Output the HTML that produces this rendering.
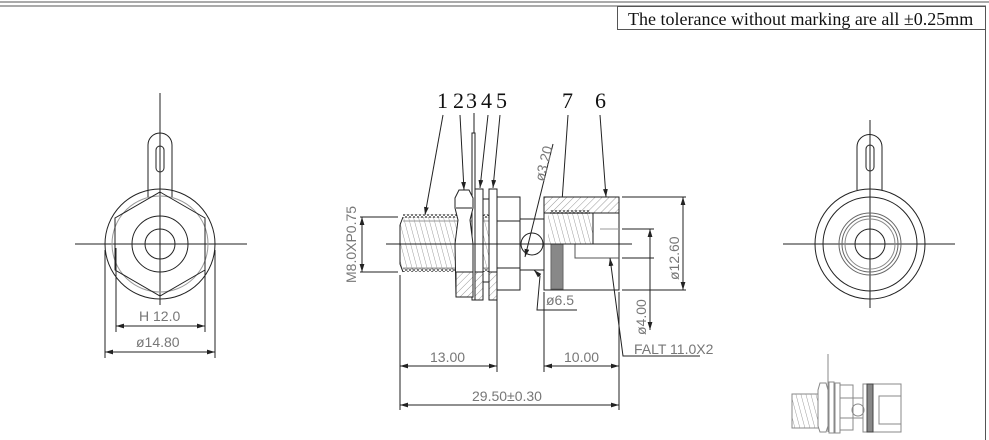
<!DOCTYPE html>
<html><head><meta charset="utf-8"><style>
html,body{margin:0;padding:0;background:#fff;}
svg{display:block;}
text{font-family:"Liberation Sans",sans-serif;fill:#777;font-size:14px;}
.s{fill:none;stroke:#222;stroke-width:1;}
.g{fill:none;stroke:#888;stroke-width:1;}
.lbl{font-family:"Liberation Serif",serif;fill:#111;font-size:22px;}
</style></head><body>
<svg width="989" height="440" viewBox="0 0 989 440" xmlns="http://www.w3.org/2000/svg">
<defs>
<pattern id="h" width="5" height="5" patternUnits="userSpaceOnUse" patternTransform="rotate(45)"><line x1="0" y1="0" x2="0" y2="5" stroke="#555" stroke-width="0.6"/></pattern>
<pattern id="th" width="5" height="10" patternUnits="userSpaceOnUse" patternTransform="skewX(15)"><line x1="0" y1="0" x2="0" y2="10" stroke="#555" stroke-width="0.6"/></pattern>
<pattern id="zz" width="4" height="4" patternUnits="userSpaceOnUse"><path d="M0,4 L2,0 L4,4" fill="none" stroke="#333" stroke-width="0.7"/></pattern>
<marker id="a" viewBox="0 0 10 6" refX="10" refY="3" markerWidth="8" markerHeight="5" orient="auto-start-reverse"><path d="M0,0 L10,3 L0,6z" fill="#222"/></marker>
</defs>
<line x1="0" y1="2" x2="989" y2="2" stroke="#555"/>
<line x1="0" y1="6" x2="986" y2="6" stroke="#555"/>
<line x1="985.5" y1="6" x2="985.5" y2="440" stroke="#555"/>
<rect x="617.5" y="6.5" width="368" height="23" fill="none" stroke="#555"/>
<text x="628" y="25" style="font-family:'Liberation Serif',serif;fill:#111;font-size:18px">The tolerance without marking are all ±0.25mm</text>

<!-- LEFT VIEW -->
<g class="s">
<line x1="75" y1="244" x2="247" y2="244"/><line x1="160" y1="93" x2="160" y2="305"/>
<circle cx="160" cy="244" r="55"/>
<circle cx="160" cy="244" r="48" stroke="#999"/>
<polygon points="160,192 205,218 205,270 160,296 115,270 115,218"/>
<circle cx="160" cy="244" r="28"/><circle cx="160" cy="244" r="15"/>
<path d="M148,197 L148,145 A12,12 0 0 1 172,145 L172,197"/>
<rect x="156" y="146" width="8" height="26" rx="4"/>
<line x1="116" y1="248" x2="116" y2="332"/><line x1="205" y1="248" x2="205" y2="332"/>
<line x1="105" y1="250" x2="105" y2="358"/><line x1="215" y1="250" x2="215" y2="358"/>
<line x1="116" y1="326" x2="205" y2="326" marker-start="url(#a)" marker-end="url(#a)"/>
<line x1="105" y1="352" x2="215" y2="352" marker-start="url(#a)" marker-end="url(#a)"/>
</g>
<text x="139" y="321">H 12.0</text>
<text x="136" y="347">ø14.80</text>

<!-- MAIN SIDE VIEW -->
<g transform="translate(0,0)">
<text class="lbl" x="437" y="108">1</text><text class="lbl" x="453" y="108">2</text><text class="lbl" x="466" y="108">3</text><text class="lbl" x="481" y="108">4</text><text class="lbl" x="496" y="108">5</text>
<text class="lbl" x="562" y="108">7</text><text class="lbl" x="595" y="108">6</text>
</g>
<g class="s">
<line x1="443" y1="115" x2="425" y2="215" marker-end="url(#a)"/>
<line x1="460" y1="115" x2="464" y2="190" marker-end="url(#a)"/>
<line x1="474" y1="113" x2="474" y2="133"/>
<line x1="488" y1="115" x2="480" y2="188" marker-end="url(#a)"/>
<line x1="500" y1="115" x2="493" y2="188" marker-end="url(#a)"/>
<line x1="568" y1="115" x2="559" y2="245" marker-end="url(#a)"/>
<line x1="600" y1="115" x2="606" y2="197" marker-end="url(#a)"/>
<!-- thread -->
<rect x="400" y="217" width="98" height="55" fill="url(#th)" stroke="none"/>
<rect x="403" y="214" width="93" height="4" fill="url(#zz)" stroke="none"/>
<rect x="403" y="271" width="93" height="4" fill="url(#zz)" stroke="none" transform="translate(0,543) scale(1,-1)"/>
<path d="M400,225 L403,217 M400,225 L400,264 L403,272"/>
<line x1="403" y1="221" x2="496" y2="221" stroke="#999"/><line x1="403" y1="268" x2="496" y2="268" stroke="#999"/>
<rect x="472" y="133" width="3" height="167" fill="#fff"/>
<path d="M459,190 L469,190 L473,198 L473,208 L470,220 L473,244 L473,297 L456,297 L455,244 L458,220 L455,208 L455,198 Z" fill="#fff"/>
<line x1="456" y1="208" x2="472" y2="208"/>
<rect x="456" y="272" width="17" height="25" fill="url(#h)"/>
<rect x="475" y="189" width="8" height="111" fill="#fff"/>
<rect x="489" y="189" width="8" height="111" fill="#fff"/>
<rect x="475" y="272" width="8" height="28" fill="url(#h)"/>
<rect x="489" y="272" width="8" height="28" fill="url(#h)"/>
<line x1="483" y1="199" x2="489" y2="199"/><line x1="483" y1="282" x2="489" y2="282"/>
<rect x="497" y="197" width="23" height="93" fill="#fff"/>
<line x1="497" y1="221" x2="520" y2="221"/><line x1="497" y1="268" x2="520" y2="268"/>
<rect x="520" y="219" width="24" height="51"/>
<circle cx="532" cy="244" r="11"/>
<rect x="544" y="197" width="75" height="93" fill="#fff"/>
<rect x="544" y="197" width="75" height="16" fill="url(#h)"/>
<rect x="548" y="213" width="45" height="31" fill="url(#th)" stroke="none"/>
<rect x="550" y="210" width="40" height="4" fill="url(#zz)" stroke="none"/>
<line x1="593" y1="213" x2="593" y2="244"/>
<line x1="548" y1="244" x2="619" y2="244"/>
<rect x="551" y="244" width="12" height="45" fill="#888" stroke="#666"/>
<line x1="600" y1="229" x2="619" y2="229" stroke="#999"/>
<path d="M575,244 L575,258 L619,258" stroke="#555"/>
<line x1="386" y1="244" x2="632" y2="244"/>
<line x1="360" y1="217" x2="398" y2="217"/><line x1="360" y1="272" x2="398" y2="272"/>
<line x1="362" y1="217" x2="362" y2="272" marker-start="url(#a)" marker-end="url(#a)"/>
<line x1="400" y1="275" x2="400" y2="410"/>
<line x1="497" y1="300" x2="497" y2="372"/>
<line x1="544" y1="292" x2="544" y2="372"/>
<line x1="619" y1="292" x2="619" y2="410"/>
<line x1="400" y1="366" x2="497" y2="366" marker-start="url(#a)" marker-end="url(#a)"/>
<line x1="544" y1="366" x2="619" y2="366" marker-start="url(#a)" marker-end="url(#a)"/>
<line x1="400" y1="405" x2="619" y2="405" marker-start="url(#a)" marker-end="url(#a)"/>
<line x1="622" y1="197" x2="686" y2="197"/><line x1="622" y1="290" x2="686" y2="290"/>
<line x1="683" y1="197" x2="683" y2="290" marker-start="url(#a)" marker-end="url(#a)"/>
<line x1="622" y1="229" x2="654" y2="229"/><line x1="622" y1="258" x2="654" y2="258"/>
<line x1="650" y1="229" x2="650" y2="330" marker-start="url(#a)" marker-end="url(#a)"/>
<line x1="553" y1="144" x2="525" y2="257" marker-end="url(#a)"/>
<path d="M534,270 L540,276 L537,310 L577,310" marker-start="url(#a)"/>
<path d="M610,258 L623,356 L700,356" marker-start="url(#a)"/>
</g>
<text transform="translate(356,283) rotate(-90)">M8.0XP0.75</text>
<text x="430" y="362">13.00</text>
<text x="564" y="362">10.00</text>
<text x="472" y="401">29.50±0.30</text>
<text transform="translate(679,280) rotate(-90)">ø12.60</text>
<text transform="translate(646,335) rotate(-90)">ø4.00</text>
<text transform="translate(544,182) rotate(-76)">ø3.20</text>
<text x="546" y="305">ø6.5</text>
<text x="634" y="354">FALT  11.0X2</text>

<!-- RIGHT VIEW -->
<g class="s">
<line x1="783" y1="244" x2="955" y2="244"/><line x1="870" y1="120" x2="870" y2="308"/>
<circle cx="870" cy="244" r="55"/><circle cx="870" cy="244" r="47"/>
<circle cx="870" cy="244" r="31" stroke="#666"/><circle cx="870" cy="244" r="28" stroke="#666"/>
<circle cx="870" cy="244" r="25" stroke="#888"/><circle cx="870" cy="244" r="15"/>
<path d="M857,190 L857,147 A12.5,12.5 0 0 1 882,147 L882,190"/>
<rect x="866" y="145" width="8" height="26" rx="4"/>
</g>

<!-- SMALL VIEW -->
<g class="g">
<rect x="792" y="394" width="28" height="34" fill="url(#th)"/>
<path d="M820,383 L826,383 L828,390 L828,426 L826,432 L820,432 L818,426 L818,390 Z" fill="#fff"/>
<line x1="828" y1="354" x2="828" y2="432"/>
<rect x="829" y="382" width="5" height="51"/>
<rect x="835" y="383" width="5" height="50"/>
<rect x="840" y="385" width="13" height="45"/>
<line x1="840" y1="398" x2="853" y2="398"/><line x1="840" y1="418" x2="853" y2="418"/>
<rect x="853" y="398" width="10" height="20"/>
<circle cx="858" cy="410" r="6"/>
<rect x="863" y="384" width="38" height="48"/>
<rect x="867" y="384" width="6" height="48" fill="#888" stroke="#444"/>
<rect x="879" y="396" width="22" height="28"/>
</g>
</svg>
</body></html>
